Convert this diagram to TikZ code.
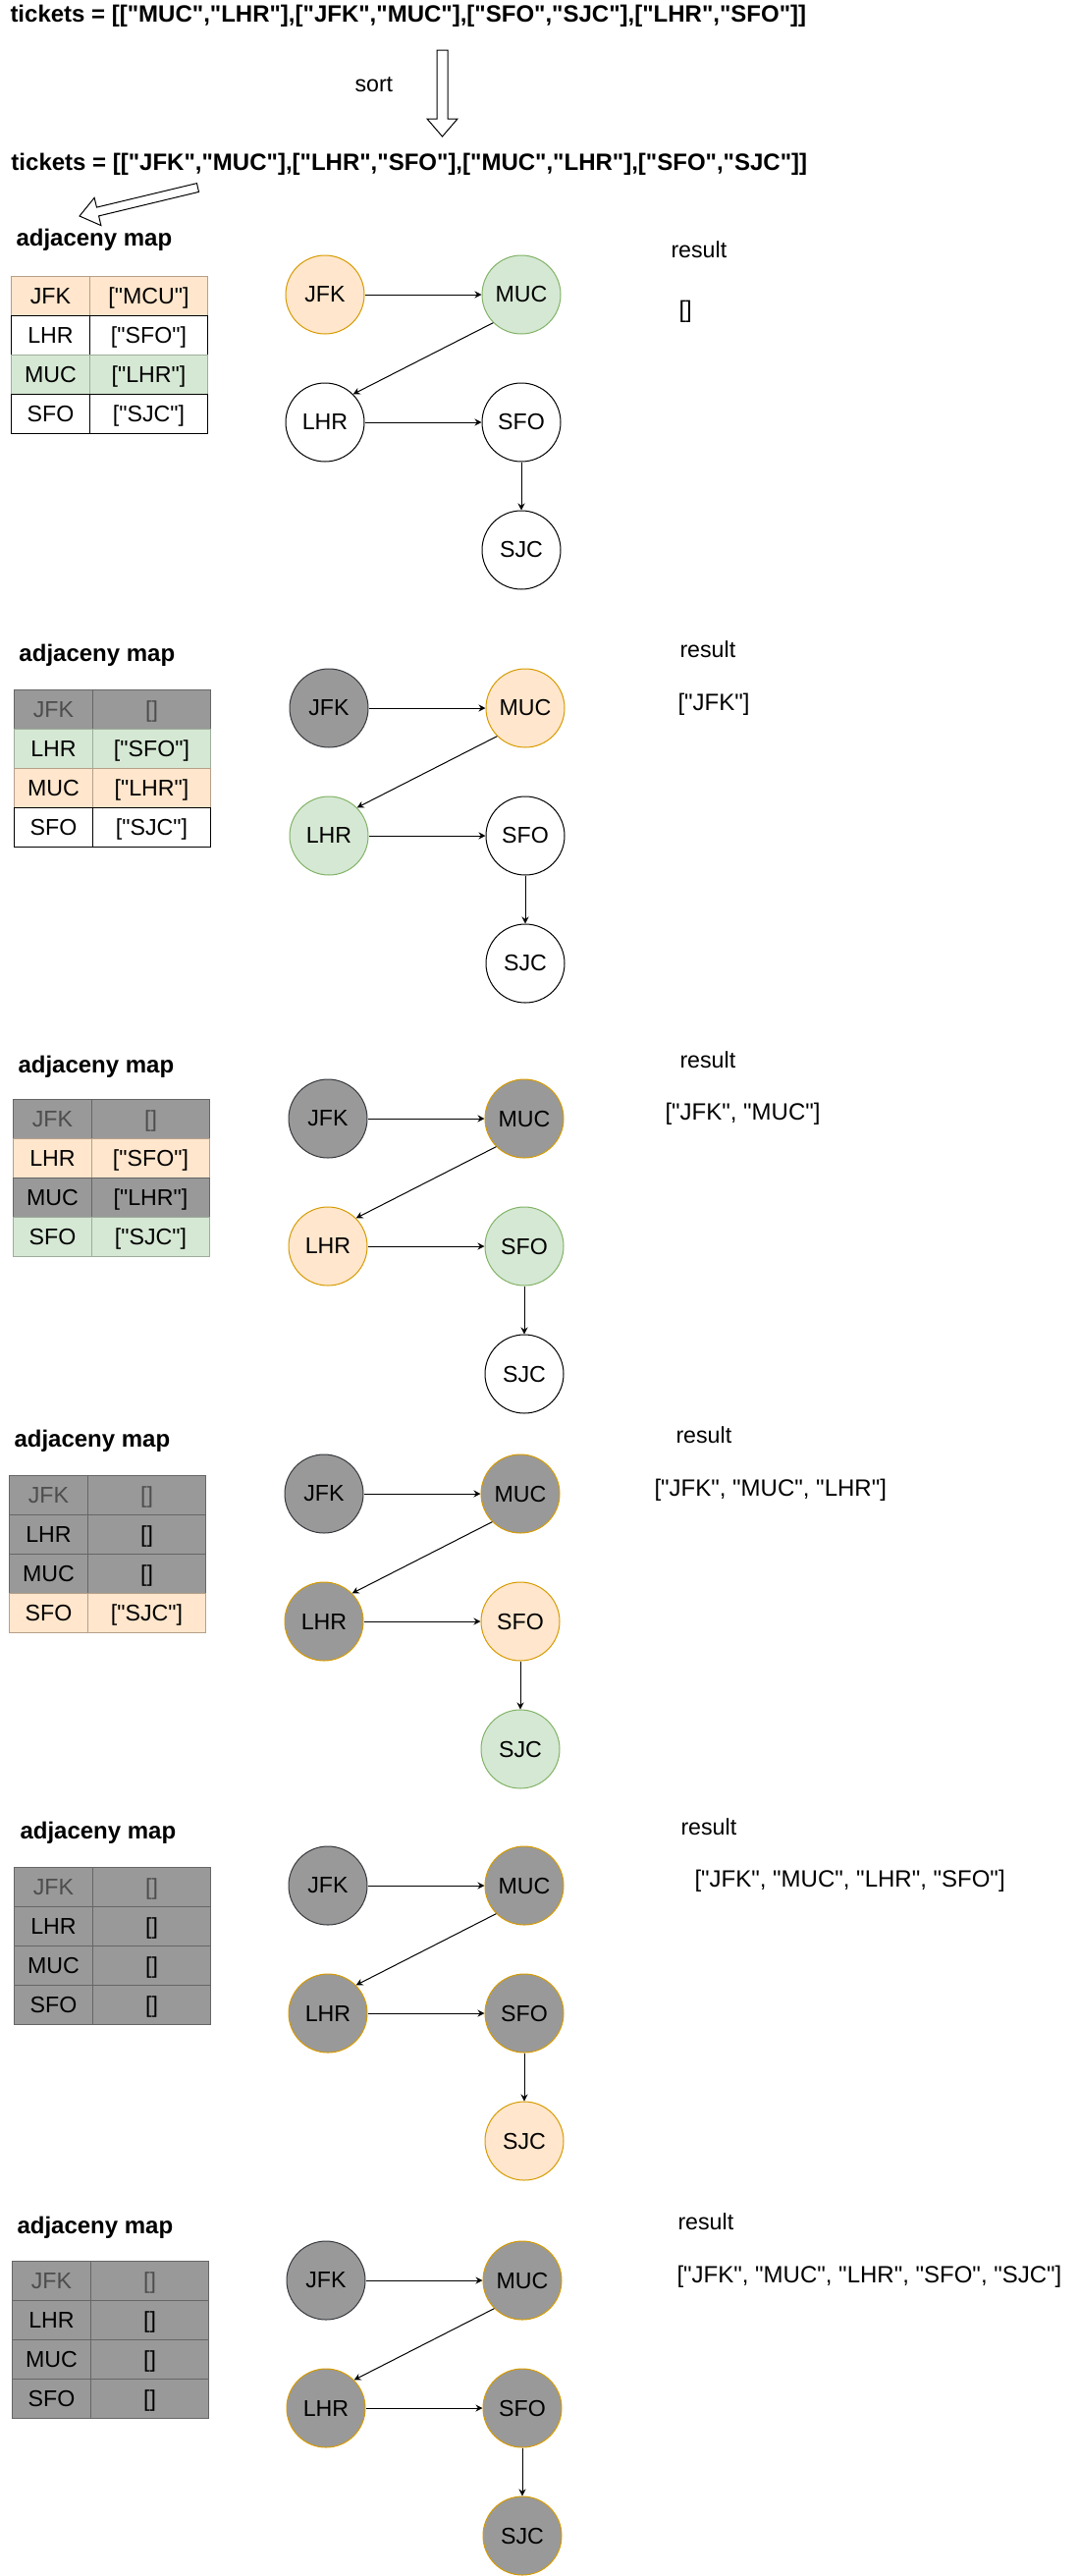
\documentclass[tikz,border=0pt]{standalone}
\usepackage{fontspec}
\setmainfont{Liberation Sans}[Ligatures=TeXOff]
\usetikzlibrary{arrows.meta}
\definecolor{visitfill}{HTML}{FFE6CC}
\definecolor{visitline}{HTML}{D79B00}
\definecolor{nextfill}{HTML}{D5E8D4}
\definecolor{nextline}{HTML}{82B366}
\definecolor{usedfill}{HTML}{999999}
\definecolor{usedline}{HTML}{666666}
\definecolor{startline}{HTML}{36393D}
\definecolor{visitrow}{HTML}{B5A08A}
\definecolor{nextrow}{HTML}{9DAD9A}
\definecolor{starttext}{HTML}{4D4D4D}
\tikzset{
  every node/.style={
    font=\fontsize{23.2}{28}\selectfont,
  },
  caption/.style={
    inner sep=0pt,
    anchor=base west,
  },
  itinerary/.style={
    caption,
    font=\fontsize{24}{28}\selectfont,
  },
  heading/.style={
    caption,
    font=\fontsize{24}{28}\selectfont\bfseries,
  },
  airport/.style={
    circle,
    draw=black,
    fill=white,
    minimum size=80pt,
    inner sep=0pt,
  },
  current/.style={
    airport,
    draw=visitline,
    fill=visitfill,
  },
  upnext/.style={
    airport,
    draw=nextline,
    fill=nextfill,
  },
  flown/.style={
    airport,
    draw=visitline,
    fill=usedfill,
  },
  origin/.style={
    airport,
    draw=startline,
    fill=usedfill,
  },
  ticket/.style={
    -{Stealth[length=7pt,width=7pt]},
  },
  cell/.style={
    draw=black,
    fill=white,
    anchor=north west,
    minimum height=40pt,
    inner sep=0pt,
    text height=16pt,
    text depth=0pt,
  },
  keycell/.style={cell, minimum width=80pt},
  valcell/.style={cell, minimum width=120pt},
  rowfree/.style={},
  rowcur/.style={draw=visitrow, fill=visitfill},
  rownext/.style={draw=nextrow, fill=nextfill},
  rowused/.style={draw=usedline, fill=usedfill},
  rowstart/.style={rowused, text=starttext},
  blockarrow/.style={
    draw=black,
    fill=white,
    line join=miter,
  },
}

% #1 step, #2-#6 styles of JFK, MUC, LHR, SFO, SJC
\newcommand{\flightgraph}[6]{
  \node[#2] (jfk#1) at (0,0) {JFK};
  \node[#3] (muc#1) at (200,0) {MUC};
  \node[#4] (lhr#1) at (0,130) {LHR};
  \node[#5] (sfo#1) at (200,130) {SFO};
  \node[#6] (sjc#1) at (200,260) {SJC};
  \draw[ticket] (jfk#1) -- (muc#1);
  \draw[ticket] (muc#1.south west) -- (lhr#1.north east);
  \draw[ticket] (lhr#1) -- (sfo#1);
  \draw[ticket] (sfo#1) -- (sjc#1);
}

\begin{document}
\begin{tikzpicture}[x=1pt, y=-1pt, line width=1pt]
  \useasboundingbox (0,0) rectangle (1099,2623);

  \node[heading] (unsorted) at (10,23) {tickets = [["MUC","LHR"],["JFK","MUC"],["SFO","SJC"],["LHR","SFO"]]};
  \node[caption] (sortlabel) at (361,93) {sort};
  \draw[blockarrow] (445,51) -- (456,51) -- (456,121) -- (466,121) -- (450.5,139) -- (435,121) -- (445,121) -- cycle;
  \node[heading] (sorted) at (11,173) {tickets = [["JFK","MUC"],["LHR","SFO"],["MUC","LHR"],["SFO","SJC"]]};
  \draw[blockarrow] (202.5,195.4) -- (200.5,186.6) -- (98.5,211.1) -- (96.1,201.4) -- (81,220) -- (102.9,229.6) -- (100.6,219.9) -- cycle;

  % step 1
  \node[heading] (map1) at (16,250) {adjaceny map};
  \begin{scope}[shift={(11,281)}]
    \foreach \k/\v/\s [count=\r from 0] in {JFK/{["MCU"]}/rowcur, LHR/{["SFO"]}/rowfree, MUC/{["LHR"]}/rownext, SFO/{["SJC"]}/rowfree}{
      \node[keycell, \s] (map1-\k) at (0,\r*40) {\k};
      \node[valcell, \s] (map1-\k-to) at (80,\r*40) {\v};
    }
  \end{scope}
  \begin{scope}[shift={(331,300)}]
    \flightgraph{1}{current}{upnext}{airport}{airport}{airport}
  \end{scope}
  \node[caption] (result1) at (683,262) {result};
  \node[itinerary] (path1) at (691,323) {[]};

  % step 2
  \node[heading] (map2) at (19,673) {adjaceny map};
  \begin{scope}[shift={(14,702)}]
    \foreach \k/\v/\s [count=\r from 0] in {JFK/{[]}/rowstart, LHR/{["SFO"]}/rownext, MUC/{["LHR"]}/rowcur, SFO/{["SJC"]}/rowfree}{
      \node[keycell, \s] (map2-\k) at (0,\r*40) {\k};
      \node[valcell, \s] (map2-\k-to) at (80,\r*40) {\v};
    }
  \end{scope}
  \begin{scope}[shift={(335,721)}]
    \flightgraph{2}{origin}{current}{upnext}{airport}{airport}
  \end{scope}
  \node[caption] (result2) at (692,669) {result};
  \node[itinerary] (path2) at (690,723) {["JFK"]};

  % step 3
  \node[heading] (map3) at (18,1092) {adjaceny map};
  \begin{scope}[shift={(13,1119)}]
    \foreach \k/\v/\s [count=\r from 0] in {JFK/{[]}/rowstart, LHR/{["SFO"]}/rowcur, MUC/{["LHR"]}/rowused, SFO/{["SJC"]}/rownext}{
      \node[keycell, \s] (map3-\k) at (0,\r*40) {\k};
      \node[valcell, \s] (map3-\k-to) at (80,\r*40) {\v};
    }
  \end{scope}
  \begin{scope}[shift={(334,1139)}]
    \flightgraph{3}{origin}{flown}{current}{upnext}{airport}
  \end{scope}
  \node[caption] (result3) at (692,1087) {result};
  \node[itinerary] (path3) at (677,1140) {["JFK", "MUC"]};

  % step 4
  \node[heading] (map4) at (14,1473) {adjaceny map};
  \begin{scope}[shift={(9,1502)}]
    \foreach \k/\v/\s [count=\r from 0] in {JFK/{[]}/rowstart, LHR/{[]}/rowused, MUC/{[]}/rowused, SFO/{["SJC"]}/rowcur}{
      \node[keycell, \s] (map4-\k) at (0,\r*40) {\k};
      \node[valcell, \s] (map4-\k-to) at (80,\r*40) {\v};
    }
  \end{scope}
  \begin{scope}[shift={(330,1521)}]
    \flightgraph{4}{origin}{flown}{flown}{current}{upnext}
  \end{scope}
  \node[caption] (result4) at (688,1469) {result};
  \node[itinerary] (path4) at (666,1523) {["JFK", "MUC", "LHR"]};

  % step 5
  \node[heading] (map5) at (20,1872) {adjaceny map};
  \begin{scope}[shift={(14,1901)}]
    \foreach \k/\v/\s [count=\r from 0] in {JFK/{[]}/rowstart, LHR/{[]}/rowused, MUC/{[]}/rowused, SFO/{[]}/rowused}{
      \node[keycell, \s] (map5-\k) at (0,\r*40) {\k};
      \node[valcell, \s] (map5-\k-to) at (80,\r*40) {\v};
    }
  \end{scope}
  \begin{scope}[shift={(334,1920)}]
    \flightgraph{5}{origin}{flown}{flown}{flown}{current}
  \end{scope}
  \node[caption] (result5) at (693,1868) {result};
  \node[itinerary] (path5) at (707,1921) {["JFK", "MUC", "LHR", "SFO"]};

  % step 6
  \node[heading] (map6) at (17,2274) {adjaceny map};
  \begin{scope}[shift={(12,2302)}]
    \foreach \k/\v/\s [count=\r from 0] in {JFK/{[]}/rowstart, LHR/{[]}/rowused, MUC/{[]}/rowused, SFO/{[]}/rowused}{
      \node[keycell, \s] (map6-\k) at (0,\r*40) {\k};
      \node[valcell, \s] (map6-\k-to) at (80,\r*40) {\v};
    }
  \end{scope}
  \begin{scope}[shift={(332,2322)}]
    \flightgraph{6}{origin}{flown}{flown}{flown}{flown}
  \end{scope}
  \node[caption] (result6) at (690,2270) {result};
  \node[itinerary] (path6) at (689,2324) {["JFK", "MUC", "LHR", "SFO", "SJC"]};
\end{tikzpicture}
\end{document}
